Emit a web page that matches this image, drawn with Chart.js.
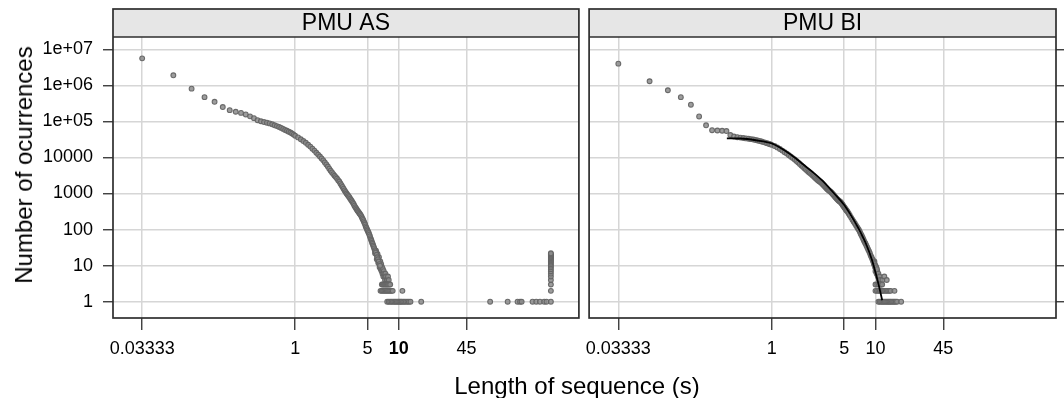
<!DOCTYPE html>
<html>
<head>
<meta charset="utf-8">
<script src="https://cdn.jsdelivr.net/npm/chart.js@4/dist/chart.umd.min.js"></script>
<style>
  body { margin: 0; background: #fff; }
  #wrap { position: relative; width: 1064px; height: 398px; overflow: hidden;
          font-family: "Liberation Sans", Arial, sans-serif; color: #000; }
  #chartAS { position: absolute; left: 0; top: 0; }
  #chartBI { position: absolute; left: 584px; top: 0; }
  .ytitle { position: absolute; left: 23.7px; top: 165px; line-height: 24px; font-size: 24px;
            white-space: nowrap; transform: translate(-50%, -50%) rotate(-90deg); }
  .xtitle { position: absolute; left: 577px; top: 374px; line-height: 24px; font-size: 24px;
            white-space: nowrap; transform: translateX(-50%); }
</style>
</head>
<body>
<div id="wrap">
  <canvas id="chartAS" width="584" height="398"></canvas>
  <canvas id="chartBI" width="480" height="398"></canvas>
  <div class="ytitle">Number of ocurrences</div>
  <div class="xtitle">Length of sequence (s)</div>
</div>
<script>
// sequence lengths are counted in frames, 30 frames per second
var FPS = 30;

var panelTitles = ['PMU AS', 'PMU BI'];
var xTickValues = [1 / 30, 1, 5, 10, 45];
var xTickLabels = ['0.03333', '1', '5', '10', '45'];
var yTickValues = [1, 10, 100, 1000, 10000, 1e5, 1e6, 1e7];
var yTickLabels = ['1', '10', '100', '1000', '10000', '1e+05', '1e+06', '1e+07'];

// PMU AS - main curve
var asFrames = [1,2,3,4,5,6,7,8,9,10,11,12,13,14,15,16,17,18,19,20,21,22,23,24,25,26,27,28,29,30,
  32,34,36,38,40,42,44,46,48,50,52,54,56,58,60,62,64,66,68,70,72,74,76,78,80,82,84,86,88,90,
  92,94,96,98,100,102,104,106,108,110,112,114,116,118,120,122,124,126,128,130,132,134,136,138,140,
  142,144,146,148,150,152,154,156,158,160,162,164,166,168,170,172,174,176,178,180,183,186,189,192,195,198];
var asCounts = [5600000,1900000,810000,470000,350000,250000,205000,185000,172000,156000,
  138000,123000,108000,101000,96000,92000,88000,83000,78000,74000,
  70000,66000,62000,58000,55000,52000,49000,46000,43000,40000,
  36000,32000,28500,25500,22500,20000,17500,15500,13500,12000,
  10600,9400,8300,7300,6400,5600,4900,4300,3850,3450,
  3100,2850,2600,2350,2150,1900,1700,1520,1360,1220,
  1100,1000,920,850,790,720,660,610,560,510,
  460,420,390,360,335,315,295,275,260,240,
  220,200,185,168,152,138,122,112,102,94,
  86,80,72,65,58,53,48,43,40,36,
  33,30,27,25,23,20,17,15,13,11,10];
// PMU AS - scattered tail
var asTailFrames = [177,181,184,187,190,193,196,199,201,203,205,207,209,211,213,215,217,219,221,223,226,229,232,236,240,
  206,211,216,221,226,231,236,242,248,
  200,206,212,218,224,230,236,242,248,255,262,325,
  232,240,248,256,264,272,280,288,296,304,312,320,330,340,352,364,376,389,494,
  2286,3375,4205,4442,4603,5868,6370,6915,7605,8000,8820];
var asTailCounts = [22,26,15,21,12,17,9,13,8,11,7,9,6,8,5,7,6,5,4,6,5,4,4,5,4,
  3,3,3,3,3,3,3,3,3,
  2,2,2,2,2,2,2,2,2,2,2,2,
  1,1,1,1,1,1,1,1,1,1,1,1,1,1,1,1,1,1,1,
  1,1,1,1,1,1,1,1,1,1,1];
// PMU AS - stacked column at the longest length
var asColFrame = 8820;
var asColCounts = [2,3,4,5,6,7,8,9,10,11,12,13,14,15,16,17,18,19,20,21,22];

// PMU BI - main curve
var biFrames = [1,2,3,4,5,6,7,8,9,10,11,12,13,14,15,16,17,18,19,20,21,22,23,24,25,26,27,28,29,30,
  32,34,36,38,40,42,44,46,48,50,52,54,56,58,60,62,64,66,68,70,72,74,76,78,80,82,84,86,88,90,
  92,94,96,98,100,102,104,106,108,110,112,114,116,118,120,122,124,126,128,130,132,134,136,138,140,
  142,144,146,148,150,152,154,156,158,160,163,166,170,175,180,185,190,195,200,204,208,212,216,220,
  224,228,232,236,240,245,250,255,260,265,270,275,280,285,290,295,300,305,310];
var biCounts = [4000000,1300000,730000,470000,290000,137000,78000,57000,56000,55000,
  54000,42000,38000,36500,35500,34500,33800,33000,32200,31400,
  30400,29500,28500,27600,26700,25800,24900,24000,23200,22400,
  20700,19000,17200,15500,14000,12800,11600,10500,9600,8800,
  8000,7300,6600,6000,5500,5000,4600,4250,3950,3700,
  3450,3200,3000,2800,2620,2450,2300,2200,2100,2000,
  1880,1760,1640,1530,1440,1360,1290,1230,1180,1150,
  1090,1030,975,920,870,820,775,735,700,670,
  645,620,600,580,555,525,495,465,440,415,
  395,375,355,340,325,300,275,245,215,188,166,147,130,116,106,97,87,77,70,
  62,56,50,45,41,36,32,28,25,22,19,17,15,13,12,11,10,9,8];
// PMU BI - scattered tail
var biTailFrames = [284,290,293,297,300,304,308,312,316,320,324,328,333,338,350,365,385,
  300,312,324,336,348,
  300,310,320,330,340,350,360,372,384,396,408,420,457,
  320,330,340,350,360,370,380,390,400,410,420,432,444,456,470,484,530];
var biTailCounts = [14,11,13,9,7,8,6,7,5,6,4,5,4,3,4,5,4,
  3,3,3,3,3,
  2,2,2,2,2,2,2,2,2,2,2,2,2,
  1,1,1,1,1,1,1,1,1,1,1,1,1,1,1,1,1];
// PMU BI - fitted curve (seconds, occurrences)
var fitSeconds = [0.37,0.5,0.7,1,1.5,2,2.5,3.07,4,5,5.75,6.9,7.6,8.3,9.2,10,10.8,11.6];
var fitCounts = [34000,33500,30000,24500,12500,6500,3900,2300,1000,480,260,105,60,34,15,6.5,2.7,1.1];

var X_MIN = 0.01743, X_MAX = 548;
var Y_MIN = 0.353, Y_MAX = 2.19e7;
var GRID = '#d6d6d6';
var AXIS = '#2e2e2e';
var FONT = '"Liberation Sans", Arial, sans-serif';

Chart.defaults.font.family = FONT;
Chart.defaults.color = '#000';

function toPoints(frames, counts) {
  return frames.map(function(f, i) { return { x: f / FPS, y: counts[i] }; });
}

function pointSet(data) {
  return {
    data: data,
    order: 1,
    showLine: false,
    pointRadius: 2.4,
    pointBorderWidth: 1.1,
    pointBorderColor: 'rgba(100,100,100,0.95)',
    pointBackgroundColor: 'rgba(140,140,140,0.85)'
  };
}

// strip on top of each panel and the panel frame
var panelFrame = {
  id: 'panelFrame',
  afterDraw: function(chart, args, opts) {
    var a = chart.chartArea, ctx = chart.ctx, top = 9;
    ctx.save();
    ctx.fillStyle = '#e6e6e6';
    ctx.fillRect(a.left, top, a.right - a.left, a.top - top);
    ctx.strokeStyle = AXIS;
    ctx.lineWidth = 1.7;
    ctx.strokeRect(a.left, top, a.right - a.left, a.bottom - top);
    ctx.beginPath();
    ctx.moveTo(a.left, a.top);
    ctx.lineTo(a.right, a.top);
    ctx.stroke();
    ctx.fillStyle = '#000';
    ctx.font = '23px ' + FONT;
    ctx.textAlign = 'center';
    ctx.textBaseline = 'middle';
    ctx.fillText(opts.title, (a.left + a.right) / 2, (top + a.top) / 2 + 1);
    ctx.restore();
  }
};

function makeOptions(isLeft) {
  var yAxis = {
    type: 'logarithmic',
    min: Y_MIN,
    max: Y_MAX,
    position: isLeft ? 'left' : 'right',
    afterBuildTicks: function(s) { s.ticks = yTickValues.map(function(v) { return { value: v }; }); },
    afterFit: function(s) {
      s.width = isLeft ? 113 : 8;
      s.paddingTop = 0; s.paddingBottom = 0;
    },
    border: { display: false },
    grid: { color: GRID, lineWidth: 1.5, tickLength: isLeft ? 10 : 8, tickColor: AXIS, tickWidth: 1.3 },
    ticks: {
      display: isLeft,
      autoSkip: false,
      padding: 10,
      color: '#000',
      font: { size: 18 },
      callback: function(v, i) { return yTickLabels[i]; }
    }
  };
  return {
    responsive: false,
    animation: false,
    events: [],
    layout: { padding: isLeft ? { left: 0, right: 3, top: 37, bottom: 0 } : { left: 4, right: 0, top: 37, bottom: 0 } },
    plugins: {
      legend: { display: false },
      tooltip: { enabled: false },
      panelFrame: { title: isLeft ? panelTitles[0] : panelTitles[1] }
    },
    scales: {
      x: {
        type: 'logarithmic',
        min: X_MIN,
        max: X_MAX,
        position: 'bottom',
        afterBuildTicks: function(s) { s.ticks = xTickValues.map(function(v) { return { value: v }; }); },
        afterFit: function(s) { s.height = 80; s.paddingLeft = 0; s.paddingRight = 0; },
        border: { display: false },
        grid: { color: GRID, lineWidth: 1.5, tickLength: 12, tickColor: AXIS, tickWidth: 1.3 },
        ticks: {
          autoSkip: false,
          maxRotation: 0,
          padding: 8,
          color: '#000',
          font: function(c) {
            var bold = isLeft && c.tick && c.tick.value === 10;
            return { size: 18, weight: bold ? 'bold' : 'normal' };
          },
          callback: function(v, i) { return xTickLabels[i]; }
        }
      },
      y: yAxis
    }
  };
}

var asColumn = asColCounts.map(function(c) { return { x: asColFrame / FPS, y: c }; });

new Chart(document.getElementById('chartAS'), {
  type: 'scatter',
  data: {
    datasets: [
      pointSet(toPoints(asFrames, asCounts)),
      pointSet(toPoints(asTailFrames, asTailCounts)),
      pointSet(asColumn)
    ]
  },
  options: makeOptions(true),
  plugins: [panelFrame]
});

new Chart(document.getElementById('chartBI'), {
  type: 'scatter',
  data: {
    datasets: [
      pointSet(toPoints(biFrames, biCounts)),
      pointSet(toPoints(biTailFrames, biTailCounts)),
      {
        data: fitSeconds.map(function(s, i) { return { x: s, y: fitCounts[i] }; }),
        order: 0,
        showLine: true,
        pointRadius: 0,
        borderColor: '#000',
        borderWidth: 1.8,
        cubicInterpolationMode: 'monotone'
      }
    ]
  },
  options: makeOptions(false),
  plugins: [panelFrame]
});
</script>
</body>
</html>
